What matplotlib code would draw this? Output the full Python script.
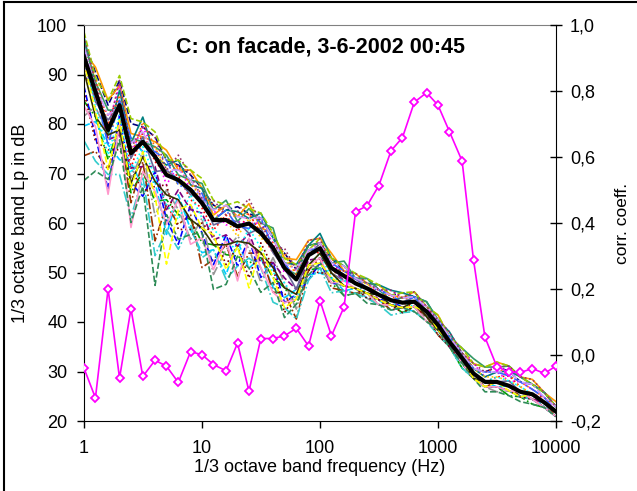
import numpy as np
import matplotlib
matplotlib.use("Agg")
import matplotlib.pyplot as plt
from matplotlib.lines import Line2D

plt.rcParams['font.family'] = ['Liberation Sans', 'DejaVu Sans']

# 1/3 octave band centre frequencies (Hz)
freqs = [1, 1.25, 1.6, 2, 2.5, 3.15, 4, 5, 6.3, 8, 10,
         12.5, 16, 20, 25, 31.5, 40, 50, 63, 80, 100, 125, 160,
         200, 250, 315, 400, 500, 630, 800, 1000,
         1250, 1600, 2000, 2500, 3150, 4000, 5000, 6300, 8000, 10000]

# mean spectrum (thick black line), dB
mean_lp = [93.6, 86.5, 78.8, 83.8, 74.1, 76.4, 73.4, 69.7, 68.7, 66.7, 64.0,
           60.6, 60.6, 59.3, 59.9, 58.0, 55.0, 50.9, 48.6, 53.5, 54.9, 50.9, 49.3,
           47.8, 46.8, 45.5, 44.4, 43.9, 44.1, 42.1, 39.4,
           36.0, 32.7, 29.6, 27.9, 27.9, 27.1, 25.9, 25.4, 23.7, 21.9]

# correlation coefficient per band (right axis)
corr = [-0.04, -0.13, 0.20, -0.07, 0.14, -0.065, -0.016, -0.034, -0.083, 0.010, 0.001,
        -0.029, -0.048, 0.036, -0.11, 0.05, 0.05, 0.058, 0.081, 0.027, 0.165, 0.058, 0.146,
        0.434, 0.452, 0.513, 0.619, 0.659, 0.766, 0.795, 0.757,
        0.677, 0.588, 0.288, 0.054, -0.035, -0.052, -0.053, -0.041, -0.056, -0.033]

# individual spectra, as deviation from the mean (dB)
dev_spectra = [
    [3, 4, 5, 5, 6, 3, 4, 3, 3, 3, 3, 3, 2, 4, 2, 3, 2, 3, 2, 2, 1, 2, 1, 1, 2, 1, 1, 2, 1, 1, 0, 0, 1, 1, 2, 3, 3, 2, 2, 2, 1],
    [-2, 0, 3, 1, -3, 2, -1, 0, 1, -2, -1, -2, 1, -1, 2, 0, -1, 1, 0, 1, -1, 0, 2, 0, -1, 0, 1, 0, -1, 0, 1, 1, 0, -1, 0, 1, 2, 1, 0, 1, 0],
    [-9, -5, -6, -4, -8, -6, -9, -5, -7, -6, -8, -5, -7, -6, -8, -5, -6, -4, -5, -3, -4, -3, -4, -2, -1, -2, -1, -2, -1, -2, -1, -1, -2, -1, -1, -1, -2, -1, -2, -1, -1],
    [1, 5, 6, 4, 4, 1, 3, 5, 2, 4, 3, 1, 3, 2, 4, 1, 3, 2, 4, 3, 2, 3, 1, 2, 1, 2, 1, 1, 2, 1, 2, 1, 1, 2, 3, 4, 4, 3, 3, 2, 2],
    [-14, -6, -3, -11, -2, -9, -5, -12, -3, -8, -10, -6, -11, -3, -9, -5, -8, -6, -2, -4, -5, -2, -3, -1, -2, -1, -2, -1, -2, -1, -1, -1, -1, -1, 0, -1, 0, -1, 0, -1, 0],
    [2, -1, 1, 4, 0, 3, 1, -2, 3, 0, 1, 2, -1, 1, 0, 2, 1, -1, 2, 0, 2, 1, 0, 1, 0, 1, 2, 1, 0, 1, 0, 1, 2, 2, 1, 2, 1, 2, 1, 1, 1],
    [-20, -12, -8, -5, -10, -4, -17, -6, -9, -5, -13, -8, -5, -10, -6, -4, -9, -5, -8, -3, -2, -4, -3, -2, -1, -1, -2, -1, -1, -1, -2, -1, -1, 0, -1, 0, 0, -1, -1, 0, -1],
    [4, 1, -1, 3, 2, 5, 0, 2, 4, 1, 3, 0, 2, 3, 1, 4, 2, 1, 3, 2, 3, 2, 2, 1, 1, 2, 2, 2, 1, 2, 1, 2, 1, 1, 1, 2, 3, 3, 2, 2, 1],
    [-6, -9, -12, -2, -6, -11, -3, -9, -13, -3, -6, -9, -3, -8, -3, -9, -3, -7, -3, -5, -3, -3, -2, -1, -1, -1, 0, -1, -1, 0, -1, 0, -1, -1, -1, -1, -1, -1, -1, -1, -1],
    [0, 2, -2, 0, 1, -1, 2, 1, -1, 2, 0, 1, 0, -2, 1, -1, 0, 2, 1, 1, 0, -1, 1, 0, 1, 0, 0, 1, 0, -1, 0, 0, 0, 1, 1, 1, 1, 1, 0, 0, 0],
    [-12, -3, -1, -8, -5, -2, -12, -3, -6, -10, -3, -11, -6, -2, -5, -10, -2, -3, -6, -2, -4, -3, -2, -1, -2, -2, -1, -1, -2, -1, -1, -1, -1, -1, -1, -2, -1, -1, -1, -1, 0],
    [3, 2, 4, -1, 3, 0, 2, 4, 1, 2, 4, 2, 4, 1, 3, 2, 4, 0, 1, 2, 1, 1, 3, 1, 2, 1, 0, 1, 1, 2, 1, 1, 2, 3, 3, 3, 4, 3, 2, 2, 1],
    [-4, 1, -2, -6, -3, -5, -2, -7, -2, -4, -2, -4, -3, -4, -2, -6, -3, -2, -2, -1, -2, 0, -1, 0, 0, -1, -1, 0, 0, -1, 0, -1, 0, 0, 0, 0, 0, 0, -1, 0, 0],
    [1, 3, 1, 2, -1, 4, 2, 0, 3, 1, 2, 3, 1, 2, 2, 0, 1, 3, 1, 1, 1, 2, 0, 1, 1, 0, 1, 1, 1, 1, 1, 0, 1, 1, 2, 3, 2, 2, 1, 1, 1],
    [-17, -14, -9, -14, -13, -7, -20, -11, -14, -7, -11, -6, -12, -8, -7, -7, -11, -8, -8, -5, -4, -5, -3, -2, -2, -2, -3, -2, -2, -2, -2, -1, -2, -1, -1, -1, -1, -1, -1, -1, -1],
    [-1, -2, 2, 0, -1, 1, -3, 1, 0, -1, 1, -1, 0, 1, -2, 1, -1, 0, -2, 0, 1, -1, -1, 1, 0, 0, 0, 0, 1, 0, 1, 0, 1, 0, 0, 0, 1, 0, 0, 0, 0],
    [5, 3, 6, 6, 7, 4, 5, 3, 4, 4, 5, 4, 3, 5, 3, 4, 3, 2, 3, 1, 2, 2, 2, 2, 2, 2, 1, 2, 2, 1, 2, 1, 2, 2, 3, 4, 4, 3, 2, 2, 1],
    [-7, -10, -4, -9, -3, -10, -6, -2, -10, -8, -4, -3, -9, -4, -11, -2, -4, -9, -3, -3, -5, -1, -2, -1, -2, -1, -1, -2, -1, -1, -2, -1, -1, -1, -1, -1, -1, -1, -1, -1, -1],
    [2, 0, -3, 1, 3, -2, 1, 3, -1, 0, 2, 0, 2, 0, -1, 3, 0, 1, 0, 1, 0, 1, 1, 1, 0, 1, 1, 0, 1, 0, 1, 1, 0, 1, 2, 2, 2, 2, 1, 1, 0],
    [-10, -7, -13, -4, -15, -6, -7, -10, -4, -11, -7, -10, -4, -11, -3, -7, -9, -7, -4, -2, -2, -3, -1, -1, -1, -2, -1, -1, -1, -2, -1, 0, -1, -1, -1, -1, -1, 0, -1, -1, -1],
    [-25, -16, -10, -7, -14, -9, -26, -8, -12, -9, -6, -14, -13, -6, -9, -12, -7, -10, -5, -4, -3, -2, -4, -2, -3, -2, -2, -1, -2, -2, -1, -1, -1, -1, -2, -2, -2, -2, -2, -1, -1],
    [0, -3, -5, -2, -4, -1, -4, -6, -8, -1, -3, -2, -4, -5, -1, -3, -5, -3, -4, -2, -1, -2, -1, 0, -1, 0, -1, 0, -1, 0, 0, 0, 0, 0, 0, 1, 1, 1, 0, 0, 0],
    [2, 1, 3, 0, 2, 2, 0, 1, 2, 2, 1, 2, 3, 2, 1, 3, 2, 1, 2, 1, 1, 1, 2, 1, 1, 1, 1, 1, 1, 1, 1, 1, 1, 1, 2, 2, 3, 2, 2, 1, 1],
    [-3, -5, -1, -5, -6, -3, -5, -4, -4, -6, -5, -5, -5, -3, -4, -4, -4, -4, -3, -2, -1, -1, -2, -1, -1, 0, -1, -1, 0, -1, -1, 0, 0, -1, 0, 0, 0, 0, 0, 0, 0],
    [-1, -4, -8, -3, -7, -2, -8, -18, -6, -3, -5, -3, -10, -4, -13, -3, -6, -8, -4, -2, -3, -2, -2, -1, -1, -1, -1, -1, -1, 0, -1, 0, 0, -1, -1, 0, -1, -1, 0, 0, 0],
    [4, 2, 0, 5, 1, 3, 4, 1, 5, 3, 1, 4, 1, 3, 5, 2, 0, 4, 2, 3, 2, 0, 1, 2, 1, 1, 2, 1, 2, 1, 1, 2, 1, 2, 2, 3, 4, 3, 3, 2, 1],
]

line_colors = ['#000080', '#FF0000', '#00A000', '#FF9900', '#00CCFF', '#FF00FF',
               '#993300', '#008080', '#0000FF', '#FFCC00', '#969696', '#339966',
               '#800080', '#FF6600', '#33CCCC', '#666699', '#99CC00', '#800000',
               '#3366FF', '#FF99CC', '#2E8B57', '#00FFFF', '#CC99FF', '#333300',
               '#FFFF00', '#993366']
line_styles = ['-', '--', ':', '-.']

fig = plt.figure(figsize=(6.37, 4.91), dpi=100)
ax = fig.add_axes([84 / 637, 70 / 491, 472 / 637, 396 / 491])

mean_arr = np.array(mean_lp)
for i, d in enumerate(dev_spectra):
    ax.plot(freqs, mean_arr + np.array(d), color=line_colors[i % len(line_colors)],
            ls=line_styles[(i + 1) % len(line_styles)], lw=1.2, zorder=2)
ax.plot(freqs, mean_lp, color='black', lw=3, zorder=3)

ax.set_xscale('log')
ax.set_xlim(1, 10000)
ax.set_ylim(20, 100)
ax.set_xticks([1, 10, 100, 1000, 10000])
ax.set_xticklabels(['1', '10', '100', '1000', '10000'])
ax.xaxis.set_minor_locator(matplotlib.ticker.NullLocator())
ax.set_yticks(np.arange(20, 101, 10))
ax.tick_params(axis='both', labelsize=13, length=5, width=1, direction='out')
ax.tick_params(axis='x', pad=9)
ax.tick_params(axis='y', pad=7)
ax.spines['top'].set_color('#808080')
ax.spines['right'].set_visible(False)
ax.set_xlabel('1/3 octave band frequency (Hz)', fontsize=13, labelpad=1)
ax.set_ylabel('1/3 octave band Lp in dB', fontsize=13, labelpad=6)
ax.text(0.5, 0.945, 'C: on facade, 3-6-2002 00:45', transform=ax.transAxes,
        ha='center', va='center', fontsize=15.5, fontweight='bold')

ax2 = ax.twinx()
ax2.plot(freqs, corr, color='#FF00FF', lw=1.2, marker='D', ms=4,
         mfc='white', mec='#FF00FF', mew=1.3, zorder=4)
ax2.set_ylim(-0.2, 1.0)
ax2.set_yticks(np.arange(-0.2, 1.01, 0.2))
ax2.set_yticklabels([f'{v:.1f}'.replace('.', ',') for v in np.arange(-0.2, 1.01, 0.2)])
ax2.tick_params(axis='y', labelsize=13, length=8, width=1, direction='inout', pad=6)
ax2.spines['top'].set_visible(False)
ax2.spines['left'].set_visible(False)
ax2.spines['bottom'].set_visible(False)
ax2.set_ylabel('corr. coeff.', fontsize=12.5, labelpad=10)

# outer frame
fig.add_artist(Line2D([4 / 637, 4 / 637], [0, 1 - 2 / 491], color='black', lw=1.5))
fig.add_artist(Line2D([4 / 637, 1], [1 - 2 / 491, 1 - 2 / 491], color='black', lw=1.5))

fig.savefig('out.png', dpi=100)
